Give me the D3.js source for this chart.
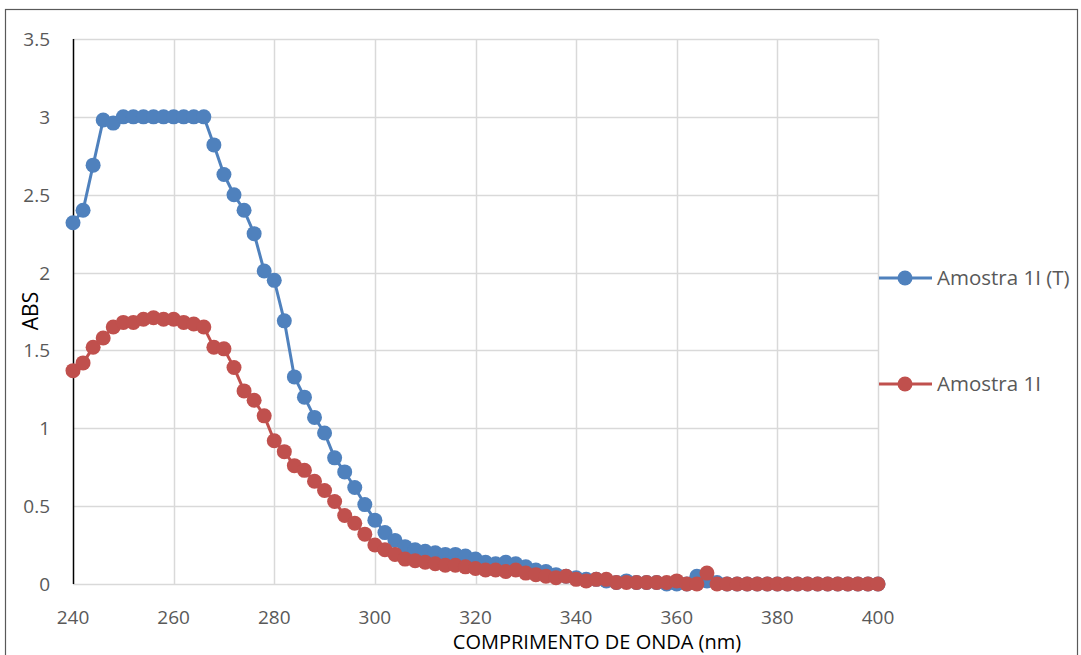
<!DOCTYPE html>
<html>
<head>
<meta charset="utf-8">
<script src="https://cdn.jsdelivr.net/npm/d3@7"></script>
<style>
  body { margin: 0; background: #fff; }
  svg text { font-family: "Open Sans", "Liberation Sans", sans-serif; fill: #595959; }
</style>
</head>
<body>
<div id="chart"></div>
<script>
// wavelengths, 240..400 nm every 2 nm
var wavelengths = [240,242,244,246,248,250,252,254,256,258,260,262,264,266,268,270,272,274,276,278,
    280,282,284,286,288,290,292,294,296,298,300,302,304,306,308,310,312,314,316,318,
    320,322,324,326,328,330,332,334,336,338,340,342,344,346,348,350,352,354,356,358,
    360,362,364,366,368,370,372,374,376,378,380,382,384,386,388,390,392,394,396,398,400];

var amostraT = [2.32,2.40,2.69,2.98,2.96,3.0,3.0,3.0,3.0,3.0,3.0,3.0,3.0,3.0,2.82,2.63,2.50,2.40,2.25,2.01,
    1.95,1.69,1.33,1.20,1.07,0.97,0.81,0.72,0.62,0.51,0.41,0.33,0.28,0.24,0.22,0.21,0.20,0.19,0.19,0.18,
    0.16,0.14,0.13,0.14,0.13,0.11,0.09,0.08,0.06,0.05,0.04,0.03,0.03,0.02,0.01,0.02,0.01,0.01,0.01,0.0,
    0.0,0.0,0.05,0.02,0.01,0.0,0.0,0.0,0.0,0.0,0.0,0.0,0.0,0.0,0.0,0.0,0.0,0.0,0.0,0.0,0.0];

var amostra = [1.37,1.42,1.52,1.58,1.65,1.68,1.68,1.70,1.71,1.70,1.70,1.68,1.67,1.65,1.52,1.51,1.39,1.24,1.18,1.08,
    0.92,0.85,0.76,0.73,0.66,0.60,0.53,0.44,0.39,0.32,0.25,0.22,0.19,0.16,0.15,0.14,0.13,0.12,0.12,0.11,
    0.10,0.09,0.09,0.08,0.09,0.07,0.06,0.05,0.04,0.05,0.03,0.02,0.03,0.03,0.01,0.01,0.01,0.01,0.01,0.01,
    0.02,0.0,0.0,0.07,0.0,0.0,0.0,0.0,0.0,0.0,0.0,0.0,0.0,0.0,0.0,0.0,0.0,0.0,0.0,0.0,0.0];

var xTicks = [240,260,280,300,320,340,360,380,400];
var yTicks = [0,0.5,1,1.5,2,2.5,3,3.5];

var series = [
    {name: "Amostra 1I (T)", values: amostraT, color: "#4f81bd", legendY: 278},
    {name: "Amostra 1I", values: amostra, color: "#c0504d", legendY: 384}
];

var width = 1081, height = 655;
var plotLeft = 73, plotRight = 878, plotTop = 39, plotBottom = 584;

var svg = d3.select("#chart").append("svg")
    .attr("width", width)
    .attr("height", height);

svg.append("rect")
    .attr("x", 5.5).attr("y", 9.5)
    .attr("width", 1072).attr("height", 660)
    .attr("fill", "#fff")
    .attr("stroke", "#595959")
    .attr("stroke-width", 1.2);

var x = d3.scaleLinear().domain([240, 400]).range([plotLeft, plotRight]);
var y = d3.scaleLinear().domain([0, 3.5]).range([plotBottom, plotTop]);

// grid
svg.append("g").selectAll("line").data(yTicks).join("line")
    .attr("x1", plotLeft).attr("x2", plotRight)
    .attr("y1", function (d) { return Math.round(y(d)) + 0.5; })
    .attr("y2", function (d) { return Math.round(y(d)) + 0.5; })
    .attr("stroke", "#d9d9d9").attr("stroke-width", 1.5);

svg.append("g").selectAll("line").data(xTicks.slice(1)).join("line")
    .attr("x1", function (d) { return Math.round(x(d)) + 0.5; })
    .attr("x2", function (d) { return Math.round(x(d)) + 0.5; })
    .attr("y1", plotTop).attr("y2", plotBottom)
    .attr("stroke", "#d9d9d9").attr("stroke-width", 1.5);

// y axis line
svg.append("line")
    .attr("x1", plotLeft + 0.5).attr("x2", plotLeft + 0.5)
    .attr("y1", plotTop).attr("y2", plotBottom)
    .attr("stroke", "#000").attr("stroke-width", 1.5);

// tick labels
svg.append("g").selectAll("text").data(yTicks).join("text")
    .attr("x", 50)
    .attr("y", function (d) { return y(d) + 7; })
    .attr("text-anchor", "end")
    .attr("font-size", 19)
    .text(function (d) { return d; });

svg.append("g").selectAll("text").data(xTicks).join("text")
    .attr("x", function (d) { return x(d); })
    .attr("y", 624)
    .attr("text-anchor", "middle")
    .attr("font-size", 19)
    .text(function (d) { return d; });

// axis titles
svg.append("text")
    .attr("x", 597).attr("y", 649)
    .attr("text-anchor", "middle")
    .attr("font-size", 20)
    .style("fill", "#000")
    .text("COMPRIMENTO DE ONDA (nm)");

svg.append("text")
    .attr("transform", "translate(38,311) rotate(-90)")
    .attr("text-anchor", "middle")
    .attr("font-size", 21)
    .style("fill", "#000")
    .text("ABS");

var line = d3.line()
    .x(function (d, i) { return x(wavelengths[i]); })
    .y(function (d) { return y(d); });

series.forEach(function (s) {
    var g = svg.append("g");
    g.append("path")
        .attr("d", line(s.values))
        .attr("fill", "none")
        .attr("stroke", s.color)
        .attr("stroke-width", 3)
        .attr("stroke-linejoin", "round");
    g.selectAll("circle").data(s.values).join("circle")
        .attr("cx", function (d, i) { return x(wavelengths[i]); })
        .attr("cy", function (d) { return y(d); })
        .attr("r", 7.5)
        .attr("fill", s.color);
});

// legend
series.forEach(function (s) {
    var lg = svg.append("g");
    lg.append("line")
        .attr("x1", 879).attr("x2", 932)
        .attr("y1", s.legendY).attr("y2", s.legendY)
        .attr("stroke", s.color).attr("stroke-width", 3);
    lg.append("circle")
        .attr("cx", 905).attr("cy", s.legendY).attr("r", 7.5)
        .attr("fill", s.color);
    lg.append("text")
        .attr("x", 937).attr("y", s.legendY + 7)
        .attr("font-size", 20.5)
        .text(s.name);
});
</script>
</body>
</html>
